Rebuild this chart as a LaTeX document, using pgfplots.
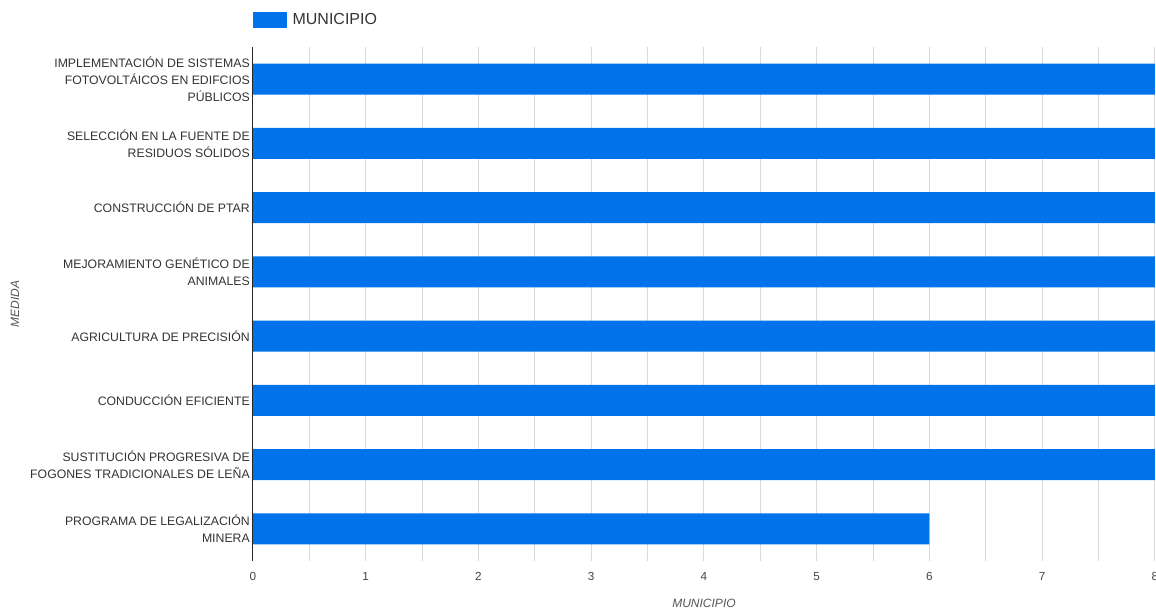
\documentclass[border=0pt]{standalone}
\usepackage{pgfplots}
\pgfplotsset{compat=1.18}
\usepackage{fontspec}
\setmainfont{Liberation Sans}

\definecolor{barblue}{RGB}{0,115,234}
\definecolor{gridgray}{RGB}{218,218,218}
\definecolor{labelgray}{RGB}{51,51,51}
\definecolor{tickgray}{RGB}{68,68,68}
\definecolor{titlegray}{RGB}{85,85,85}

% one pixel of the final picture
\newlength{\px}
\setlength{\px}{0.75pt}

\pgfplotstableread{
idx value
0 8
1 8
2 8
3 8
4 8
5 8
6 8
7 6
}\medidas

\begin{document}
\begin{tikzpicture}
\begin{axis}[
  at={(0,0)}, anchor=south west,
  scale only axis,
  width=902\px, height=514\px,
  xbar, bar width=31\px,
  xmin=0, xmax=8,
  ymin=-0.5, ymax=7.5,
  y dir=reverse,
  ytick={0,...,7},
  yticklabels={
    {IMPLEMENTACIÓN DE SISTEMAS\\FOTOVOLTÁICOS EN EDIFCIOS\\PÚBLICOS},
    {SELECCIÓN EN LA FUENTE DE\\RESIDUOS SÓLIDOS},
    {CONSTRUCCIÓN DE PTAR},
    {MEJORAMIENTO GENÉTICO DE\\ANIMALES},
    {AGRICULTURA DE PRECISIÓN},
    {CONDUCCIÓN EFICIENTE},
    {SUSTITUCIÓN PROGRESIVA DE\\FOGONES TRADICIONALES DE LEÑA},
    {PROGRAMA DE LEGALIZACIÓN\\MINERA}
  },
  yticklabel style={align=right, font=\fontsize{9.2pt}{12.75pt}\selectfont,
    text=labelgray, inner sep=0pt, xshift=-3\px},
  xtick={0,...,8},
  minor xtick={0.5,1.5,...,7.5},
  xticklabel style={font=\fontsize{8.8pt}{10pt}\selectfont, text=tickgray,
    inner sep=0pt, yshift=-11\px},
  /pgf/number format/assume math mode=true,
  major tick length=0pt, minor tick length=0pt,
  xmajorgrids, xminorgrids,
  major grid style={gridgray, line width=1\px},
  minor grid style={gridgray, line width=1\px},
  axis line style={draw=none},
  clip=false,
  legend style={at={(axis description cs:0,1)}, anchor=west,
    yshift=27\px, draw=none, fill=none, inner sep=0pt,
    font=\fontsize{12pt}{14pt}\selectfont, text=labelgray,
    /tikz/every even column/.append style={column sep=0pt}},
  legend image code/.code={\fill[barblue] (0pt,-6pt) rectangle (25.5pt,6pt);},
]
\addplot[fill=barblue, draw=none] table[x=value, y=idx] {\medidas};
\addlegendentry{\hspace{2pt}MUNICIPIO}
% vertical baseline at zero
\draw[black!85, line width=1\px] (axis cs:0,-0.5) -- (axis cs:0,7.5);
\end{axis}
\node[rotate=90, font=\itshape\fontsize{9pt}{11pt}\selectfont, text=titlegray]
  at (-238\px, 257\px) {MEDIDA};
\node[font=\itshape\fontsize{9pt}{11pt}\selectfont, text=titlegray]
  at (451\px, -42\px) {MUNICIPIO};
\pgfresetboundingbox
\path[use as bounding box] (-253\px,-50\px) rectangle (903\px,561\px);
\end{tikzpicture}
\end{document}
